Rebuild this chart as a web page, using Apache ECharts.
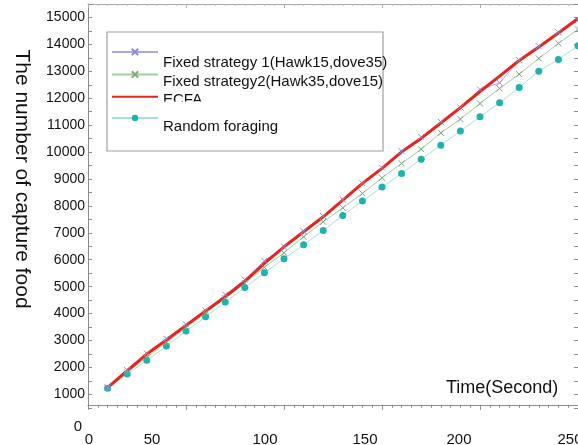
<!DOCTYPE html>
<html><head><meta charset="utf-8">
<script src="https://cdn.jsdelivr.net/npm/echarts@6/dist/echarts.min.js"></script>
<style>html,body{margin:0;padding:0;background:#fff}#c{width:578px;height:445px}</style>
</head><body><div id="c"></div>
<script>
// ---- data ----
const times = [10,20,30,40,50,60,70,80,90,100,110,120,130,140,150,160,170,180,190,200,210,220,230,240,250];
const fixed1 = [1260,1900,2520,3060,3600,4120,4700,5260,5960,6490,7060,7620,8230,8840,9420,10030,10560,11120,11657,12326,12571,13414,13933,14450,14900];
const fixed2 = [1240,1820,2370,2920,3480,4020,4570,5130,5716,6258,6852,7409,7929,8464,9043,9578,10109,10714,11223,11806,12363,12894,13477,14034,14560];
const ecfa = [1250,1876,2496,3016,3562,4093,4620,5200,5865,6481,7038,7595,8215,8835,9392,10009,10506,11080,11650,12250,12820,13400,13900,14420,14960];
const randomForaging = [1223,1754,2263,2794,3351,3882,4427,4970,5515,6035,6555,7090,7647,8178,8698,9206,9737,10257,10780,11308,11828,12400,13005,13440,13950];
const seriesNames = ['Fixed strategy 1(Hawk15,dove35)','Fixed strategy2(Hawk35,dove15)','ECFA','Random foraging'];
const xTickLabels = ['0','50','100','150','200','250'];
const yZeroLabel = '0';
const yTitle = 'The number of capture food';
const xTitle = 'Time(Second)';

// ---- layout / style ----
const FONT = "'Liberation Sans', Arial, Helvetica, sans-serif";
const xLabelCenters = [89,152,265,365,459,570];
const legendTextY = [62.7, 81.7, 100, 126.7];
const crossPath = 'path://M0,0L10,10M10,0L0,10';
const pair = arr => arr.map((v,i)=>[times[i], v]);

const chart = echarts.init(document.getElementById('c'), null, {renderer:'canvas'});
const axisGray = '#8c8c8c';

const graphics = [
  {type:'rect', shape:{x:107,y:32,width:276,height:119}, style:{fill:'none', stroke:'#a0a0a0', lineWidth:1.2}, z:5},
  {type:'text', x:22, y:179, rotation:-Math.PI/2, style:{text:yTitle, font:'21px '+FONT, fill:'#111', align:'center', verticalAlign:'middle'}},
  {type:'text', x:446, y:388, style:{text:xTitle, font:'18px '+FONT, fill:'#111', align:'left', verticalAlign:'middle'}},
  {type:'text', x:78, y:427, style:{text:yZeroLabel, font:'15px '+FONT, fill:'#111', align:'center', verticalAlign:'middle'}}
];
xTickLabels.forEach((t,i)=>graphics.push({type:'text', x:xLabelCenters[i], y:440, style:{text:t, font:'15px '+FONT, fill:'#111', align:'center', verticalAlign:'middle'}}));
seriesNames.forEach((n,i)=>graphics.push({type:'text', x:163, y:legendTextY[i], z:6, style:{text:n, font:'15px '+FONT, fill:'#111', align:'left', verticalAlign:'middle'}}));
graphics.push({type:'rect', shape:{x:160,y:101.5,width:50,height:8}, style:{fill:'#fff'}, z:7});

const xBase = {type:'value', min:0, max:250, interval:50};
const yBase = {type:'value', min:500, max:15500, interval:500};

chart.setOption({
  animation:false,
  backgroundColor:'#fff',
  grid:{left:88, right:-2, top:4, bottom:37.2, containLabel:false},
  legend:{
    orient:'vertical', left:106, top:42.7, itemWidth:46, itemHeight:8, itemGap:14.1,
    data:[
      {name:seriesNames[0]},
      {name:seriesNames[1]},
      {name:seriesNames[2], itemStyle:{color:'rgba(0,0,0,0)', borderWidth:0, opacity:0}},
      {name:seriesNames[3]}
    ],
    formatter:()=>'', selectedMode:false, z:6
  },
  graphic:graphics,
  xAxis:[
    Object.assign({}, xBase, {position:'bottom', offset:-3,
      axisLine:{onZero:false, lineStyle:{color:axisGray, width:1}},
      axisTick:{show:true, inside:false, length:5, lineStyle:{color:axisGray}},
      minorTick:{show:true, splitNumber:10, length:3, lineStyle:{color:axisGray}},
      axisLabel:{show:false}, splitLine:{show:false}}),
    Object.assign({}, xBase, {position:'top',
      axisLine:{onZero:false, lineStyle:{color:'#aaa', width:1}},
      axisTick:{show:true, inside:true, length:4, lineStyle:{color:'#aaa'}},
      minorTick:{show:true, splitNumber:10, length:2, lineStyle:{color:'#bbb'}},
      axisLabel:{show:false}, splitLine:{show:false}})
  ],
  yAxis:[
    Object.assign({}, yBase, {position:'left',
      axisLine:{show:true, onZero:false, lineStyle:{color:axisGray, width:1}},
      axisTick:{show:true, inside:true, length:4, lineStyle:{color:axisGray}},
      axisLabel:{show:true, margin:3, fontSize:14, fontFamily:FONT, color:'#111',
        formatter:v=> (v%1000===0 ? String(v) : '')},
      splitLine:{show:false}}),
    Object.assign({}, yBase, {position:'right',
      axisLine:{show:true, onZero:false, lineStyle:{color:axisGray, width:1}},
      axisTick:{show:true, inside:true, length:4, lineStyle:{color:axisGray}},
      axisLabel:{show:false}, splitLine:{show:false}})
  ],
  series:[
    {name:seriesNames[3], type:'line', data:pair(randomForaging), symbol:'circle', symbolSize:7,
      itemStyle:{color:'#1fb3ad'}, lineStyle:{color:'#a9dede', width:1}},
    {name:seriesNames[1], type:'line', data:pair(fixed2), symbol:crossPath, symbolSize:6,
      itemStyle:{color:'#7aa87a', borderColor:'#7aa87a', borderWidth:1}, lineStyle:{color:'#9fcf9f', width:1}},
    {name:seriesNames[0], type:'line', data:pair(fixed1), symbol:crossPath, symbolSize:6,
      itemStyle:{color:'#8c8cd0', borderColor:'#8c8cd0', borderWidth:1}, lineStyle:{color:'#a9a9e6', width:1}},
    {name:seriesNames[2], type:'line', data:pair(ecfa), symbol:'none',
      itemStyle:{color:'#e8241e'}, lineStyle:{color:'#e8241e', width:3}}
  ]
});
</script></body></html>
